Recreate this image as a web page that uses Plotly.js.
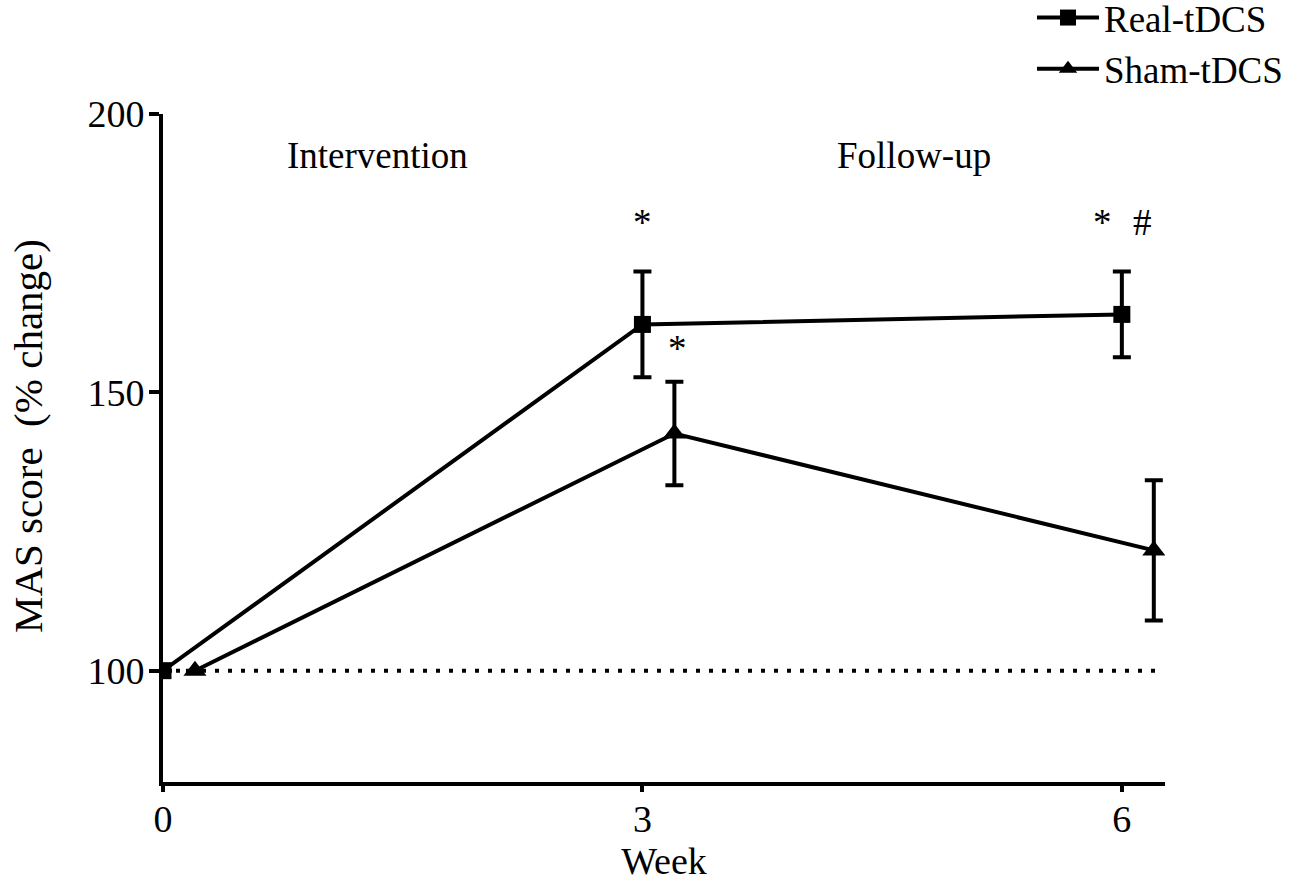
<!DOCTYPE html>
<html>
<head>
<meta charset="utf-8">
<script src="https://cdn.plot.ly/plotly-3.0.1.min.js"></script>
<style>html,body{margin:0;padding:0;background:#fff;}#chart{width:1300px;height:886px;}</style>
</head>
<body>
<div id="chart"></div>
<script>
// Data
const realWeeks = [0, 3, 6];
const realScore = [100, 162.2, 164.0];
const realErr = [0, 9.5, 7.7];

const shamWeeks = [0.2, 3.2, 6.2];
const shamScore = [100, 142.6, 121.6];
const shamErr = [0, 9.3, 12.6];

const seriesNames = ["Real-tDCS", "Sham-tDCS"];
const xTicks = [0, 3, 6];
const yTicks = [100, 150, 200];

const baseline = 100;

const periodLabels = ["Intervention", "Follow-up"];
const periodX = [1.34, 4.70];
const periodY = [192.5, 192.5];

const sigMarks = ["*", "*", "*", "#"];
const sigX = [3.0, 3.22, 5.88, 6.13];
const sigY = [180.5, 157.8, 180.5, 180.5];

const FONT = "Liberation Serif, Times New Roman, serif";

const traces = [
  {
    x: realWeeks, y: realScore, name: seriesNames[0], type: "scatter", mode: "lines+markers",
    line: {color: "#000", width: 4},
    marker: {symbol: "square", size: 17, color: "#000"},
    error_y: {type: "data", array: realErr, visible: true, color: "#000", thickness: 4, width: 9}
  },
  {
    x: shamWeeks, y: shamScore, name: seriesNames[1], type: "scatter", mode: "lines+markers",
    line: {color: "#000", width: 4},
    marker: {symbol: "triangle-up", size: 20, color: "#000"},
    error_y: {type: "data", array: shamErr, visible: true, color: "#000", thickness: 4, width: 9}
  }
];

const annotations = [];
periodLabels.forEach((t, i) => annotations.push({
  x: periodX[i], y: periodY[i], xref: "x", yref: "y", text: t, showarrow: false,
  xanchor: "center", yanchor: "middle",
  font: {family: FONT, size: 37, color: "#000"}
}));
sigMarks.forEach((t, i) => annotations.push({
  x: sigX[i], y: sigY[i], xref: "x", yref: "y", text: t, showarrow: false,
  xanchor: "center", yanchor: "middle",
  font: {family: FONT, size: 37, color: "#000"}
}));

const M = {l: 163, r: 135, t: 114, b: 104};
const pw = 1300 - M.l - M.r;
const ph = 886 - M.t - M.b;
const px2x = px => (px - M.l) / pw;
const py2y = py => ((886 - M.b) - py) / ph;

annotations.push({
  x: px2x(28), y: py2y(436), xref: "paper", yref: "paper", text: "MAS score  (% change)", showarrow: false,
  xanchor: "center", yanchor: "middle",
  textangle: -90, font: {family: FONT, size: 41, color: "#000"}
});

const layout = {
  width: 1300, height: 886,
  margin: {l: M.l, r: M.r, t: M.t, b: M.b, autoexpand: false},
  paper_bgcolor: "#fff", plot_bgcolor: "#fff",
  font: {family: FONT, size: 37, color: "#000"},
  showlegend: true,
  legend: {
    x: px2x(1032), y: py2y(-13), xref: "paper", yref: "paper", xanchor: "left", yanchor: "top",
    itemwidth: 62,
    font: {family: FONT, size: 37, color: "#000"}, bgcolor: "rgba(0,0,0,0)"
  },
  xaxis: {
    range: [0, 6.27], tickvals: xTicks, ticktext: xTicks.map(String),
    showline: true, linecolor: "#000", linewidth: 4, ticks: "outside", ticklen: 6, tickwidth: 4, tickcolor: "#000",
    ticklabelstandoff: -6,
    showgrid: false, zeroline: false, tickfont: {family: FONT, size: 38},
    title: {text: "Week", font: {family: FONT, size: 38}, standoff: 10}
  },
  yaxis: {
    range: [80, 200], tickvals: yTicks, ticktext: yTicks.map(String),
    showline: true, linecolor: "#000", linewidth: 4, ticks: "outside", ticklen: 10, tickwidth: 4, tickcolor: "#000",
    ticklabelstandoff: -3,
    showgrid: false, zeroline: false, tickfont: {family: FONT, size: 38}
  },
  shapes: [{
    type: "line", xref: "x", yref: "y", x0: 0, x1: 6.25, y0: baseline, y1: baseline,
    line: {color: "#000", width: 4, dash: "4px,9px"}, layer: "below"
  }],
  annotations: annotations
};

Plotly.newPlot("chart", traces, layout, {displayModeBar: false, staticPlot: true});
</script>
</body>
</html>
